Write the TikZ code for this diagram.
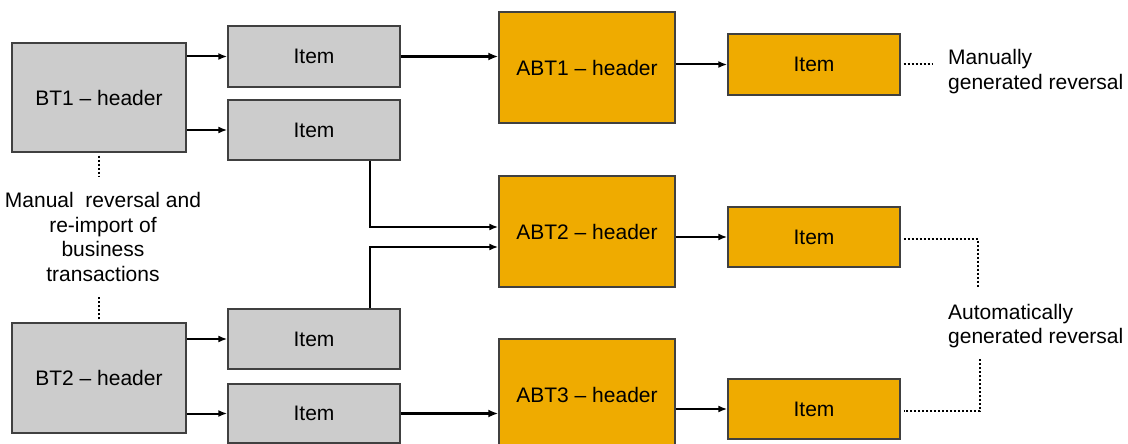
\documentclass[tikz,border=0pt]{standalone}
\usepackage{fontspec}
\setmainfont{Liberation Sans}
\usetikzlibrary{arrows.meta,calc}

\definecolor{boxgray}{HTML}{CCCCCC}
\definecolor{boxorange}{HTML}{EFAB00}
\definecolor{boxline}{HTML}{404040}

\begin{document}
\begin{tikzpicture}[x=1pt,y=-1pt,
    font=\fontsize{21}{24.5}\selectfont,
    graybox/.style={draw=boxline, line width=1.4pt, fill=boxgray, inner sep=0pt},
    orangebox/.style={draw=boxline, line width=1.4pt, fill=boxorange, inner sep=0pt},
    link/.style={line width=2pt, -{Latex[length=9pt,width=7pt]}},
    thicklink/.style={line width=3.4pt, -{Latex[length=10pt,width=8pt]}},
    dots/.style={line width=2pt, dash pattern=on 2pt off 2pt}]
    \useasboundingbox (0,0) rectangle (1128,444);

    % Define the header boxes
    \node[graybox, minimum width=174pt, minimum height=109pt] (BT1) at (99,97.5) {BT1 -- header};
    \node[graybox, minimum width=174pt, minimum height=110pt] (BT2) at (99,378) {BT2 -- header};
    \node[orangebox, minimum width=176pt, minimum height=111pt] (ABT1) at (587,67.5) {ABT1 -- header};
    \node[orangebox, minimum width=176pt, minimum height=111pt] (ABT2) at (587,231.5) {ABT2 -- header};
    \node[orangebox, minimum width=176pt, minimum height=111pt] (ABT3) at (587,394.5) {ABT3 -- header};

    % Define the item boxes
    \node[graybox, minimum width=172pt, minimum height=61pt] (I1) at (314,56.5) {Item};
    \node[graybox, minimum width=172pt, minimum height=60pt] (I2) at (314,130) {Item};
    \node[graybox, minimum width=172pt, minimum height=60pt] (I3) at (314,339) {Item};
    \node[graybox, minimum width=172pt, minimum height=59pt] (I4) at (314,413.5) {Item};
    \node[orangebox, minimum width=172pt, minimum height=61pt] (O1) at (814,64.5) {Item};
    \node[orangebox, minimum width=172pt, minimum height=60pt] (O2) at (814,237) {Item};
    \node[orangebox, minimum width=172pt, minimum height=60pt] (O3) at (814,409) {Item};

    % Place the notes
    \node[align=center, inner sep=0pt] (rev) at (103,237) {Manual\ \ reversal and\\re-import of\\business\\transactions};
    \node[align=left, anchor=west, inner sep=0pt] (man) at (948,71.5) {Manually\\generated reversal};
    \node[align=left, anchor=west, inner sep=0pt] (aut) at (948,326) {Automatically\\generated reversal};

    \coordinate (a1) at (978,288);
    \coordinate (a2) at (980,359);

    % Draw the connectors
    \draw[link] (BT1.east |- I1.west) -- (I1.west);
    \draw[link] (BT1.east |- I2.west) -- (I2.west);
    \draw[link] (BT2.east |- I3.west) -- (I3.west);
    \draw[link] (BT2.east |- I4.west) -- (I4.west);
    \draw[thicklink] (I1.east) -- (I1.east -| ABT1.west);
    \draw[thicklink] (I4.east) -- (I4.east -| ABT3.west);
    \draw[link] ([xshift=-31pt]I2.south east) |- ([yshift=4.5pt]ABT2.west);
    \draw[link] ([xshift=-31pt]I3.north east) |- ([yshift=-15.5pt]ABT2.west);
    \draw[link] (ABT1.east |- O1.west) -- (O1.west);
    \draw[link] (ABT2.east |- O2.west) -- (O2.west);
    \draw[link] (ABT3.east |- O3.west) -- (O3.west);

    % Draw the dotted lines
    \draw[dots] ([xshift=3pt]O1.east) -- (O1.east -| man.west) [shorten >=16pt];
    \draw[dots] ([xshift=3pt,yshift=-2pt]O2.east) -| (a1);
    \draw[dots] (a2) |- ([xshift=3pt,yshift=-2pt]O3.east);
    \draw[dots] ([yshift=-3pt]BT1.south) -- ++(0,21);
    \draw[dots] ([yshift=3pt]BT2.north) -- ++(0,-23);

\end{tikzpicture}
\end{document}
